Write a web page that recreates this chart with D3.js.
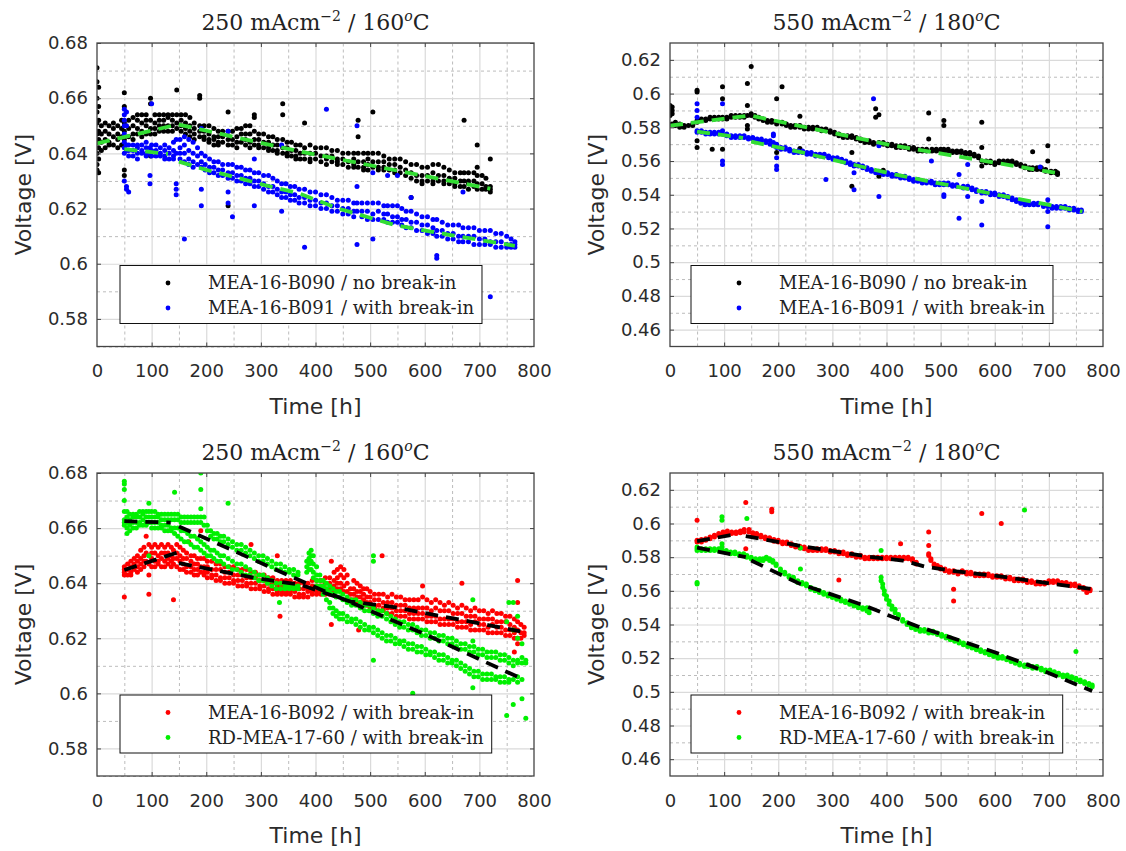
<!DOCTYPE html>
<html>
<head>
<meta charset="utf-8">
<script src="https://cdn.jsdelivr.net/npm/d3@7"></script>
<style>
  body { margin: 0; background: #fff; }
  svg { display: block; }
  .tick-label text { font-family: "DejaVu Sans", sans-serif; font-size: 18px; fill: #2b2b2b; }
  .axis-title { font-family: "DejaVu Sans", sans-serif; font-size: 22px; fill: #2b2b2b; }
  .panel-title { font-family: "DejaVu Serif", serif; font-size: 22px; fill: #222; }
  .legend text { font-family: "DejaVu Serif", serif; font-size: 18px; fill: #222; }
  .grid-major line { stroke: #dadada; stroke-width: 1.2; }
  .grid-minor line { stroke: #b4b4b4; stroke-width: 0.9; stroke-dasharray: 3,3; }
</style>
</head>
<body>
<svg id="chart" width="1126" height="851"></svg>
<script>
// voltage vs time, four panels. each row is [time, voltage, voltage, ...]
// (several dots measured at about the same time)

const xTicks = [0, 100, 200, 300, 400, 500, 600, 700, 800];
const xMinor = [50, 150, 250, 350, 450, 550, 650, 750];
const yTicksLow = [0.58, 0.60, 0.62, 0.64, 0.66, 0.68];
const yMinorLow = [0.57, 0.59, 0.61, 0.63, 0.65, 0.67];
const yTicksHigh = [0.46, 0.48, 0.50, 0.52, 0.54, 0.56, 0.58, 0.60, 0.62];
const yMinorHigh = [0.47, 0.49, 0.51, 0.53, 0.55, 0.57, 0.59, 0.61];

// ---- panel 1: 250 mA/cm2, 160 C ----
const p1B090 = [
  [0, .671, .666, .660, .655, .651, .647, .644, .640, .636, .634],
  [3, .664, .657, .652, .648, .645, .642, .638, .633],
  [8, .650, .647, .644, .641], [15, .651, .648, .645, .642], [22, .650, .647, .644, .643],
  [30, .651, .649, .646, .643], [38, .650, .647, .645, .642], [45, .652, .649, .646, .643],
  [50, .662, .657, .651, .648, .645, .634, .632], [58, .652, .649, .646],
  [66, .653, .650, .647, .645], [74, .654, .652, .649, .647], [82, .654, .651, .648, .646],
  [90, .654, .652, .650, .647], [98, .660, .658, .652, .649, .647, .639],
  [106, .654, .651, .649, .647], [114, .654, .652, .650, .648], [122, .654, .652, .650, .648],
  [130, .654, .653, .650, .648], [138, .654, .652, .650, .648], [146, .663, .654, .651, .649],
  [154, .654, .652, .650, .648], [162, .654, .651, .649, .647], [170, .653, .650, .648, .646],
  [178, .651, .649, .647, .645], [188, .661, .660, .650, .648, .646], [196, .650, .648, .646, .645],
  [205, .650, .647, .645, .644], [214, .649, .646, .645, .643], [222, .648, .646, .644, .643],
  [230, .648, .646, .644], [240, .655, .648, .645, .643, .621], [248, .648, .645, .643],
  [256, .649, .646, .644, .642], [264, .649, .647, .644], [272, .650, .647, .645, .643],
  [280, .650, .647, .644, .642], [288, .654, .653, .648, .645, .643], [296, .647, .645, .643, .642],
  [305, .647, .644, .642], [314, .646, .644, .642, .641], [322, .646, .643, .641],
  [330, .645, .643, .641, .640], [340, .658, .654, .645, .642, .640], [348, .644, .642, .640, .639],
  [356, .644, .641, .639], [364, .643, .641, .639, .638], [372, .643, .640, .638],
  [380, .651, .642, .640, .638], [390, .643, .640, .638, .637], [400, .642, .640, .638],
  [410, .642, .639, .637], [420, .642, .639, .638, .636], [430, .641, .639, .637],
  [440, .641, .638, .637, .636], [450, .640, .638, .636], [460, .640, .637, .635],
  [470, .640, .638, .636, .635], [478, .652, .646, .640, .637, .635], [488, .640, .637, .635, .634],
  [496, .640, .638, .636, .634], [505, .655, .640, .637, .635], [515, .640, .637, .635, .634],
  [525, .639, .637, .635, .634], [535, .638, .636, .634], [545, .638, .636, .634, .633],
  [555, .638, .635, .633], [565, .637, .634, .632], [575, .636, .633, .631, .624],
  [585, .636, .632, .630], [595, .635, .632, .630, .629], [605, .635, .632, .630],
  [615, .636, .633, .630, .629], [625, .636, .632, .630], [635, .635, .632, .630, .629],
  [645, .634, .631, .629], [655, .633, .631, .629, .628], [665, .633, .630, .628],
  [672, .652, .633, .630, .628], [680, .633, .630, .629, .627], [690, .633, .630, .628],
  [696, .643, .635, .632, .629, .627], [705, .632, .629, .627], [712, .631, .628, .627],
  [720, .638, .628, .627, .626]
];
const p1B091 = [
  [50, .656, .654, .652, .650, .647, .644, .642, .640, .630], [54, .655, .650, .643, .641, .628, .627],
  [58, .643, .641, .639, .626], [66, .643, .641, .639], [74, .643, .642, .640, .638],
  [82, .643, .641, .640], [90, .644, .642, .640, .639], [97, .642, .640, .632, .629],
  [100, .658, .643, .641, .639], [108, .643, .641, .639], [116, .642, .640, .639],
  [124, .643, .641, .639, .638], [132, .642, .640, .638], [140, .644, .641, .639, .638],
  [145, .645, .640, .629, .627, .625], [152, .645, .642, .640, .638], [160, .646, .643, .640, .637, .609],
  [168, .645, .641, .638, .636], [176, .644, .640, .637, .635], [184, .642, .639, .636],
  [191, .649, .640, .637, .635, .627, .621], [198, .639, .636, .634], [206, .638, .635, .633],
  [214, .637, .635, .633], [222, .637, .634, .632], [230, .636, .634, .632],
  [240, .648, .636, .633, .631, .626, .622], [248, .636, .633, .631, .617], [256, .635, .632, .630],
  [264, .635, .632, .630], [272, .634, .631, .629], [280, .634, .631, .629],
  [288, .638, .633, .630, .628, .621], [296, .633, .630, .628], [305, .632, .629, .627],
  [314, .632, .628, .626], [322, .631, .628, .626], [330, .630, .627, .625],
  [338, .643, .629, .626, .624, .619], [346, .629, .626, .624], [354, .628, .625, .623],
  [362, .628, .625, .623], [370, .627, .624, .622], [380, .627, .624, .622, .606],
  [390, .626, .623, .621], [400, .626, .623, .621], [410, .625, .622, .620],
  [420, .656, .625, .622, .620], [430, .624, .621, .619], [440, .623, .621, .619],
  [450, .623, .620, .618], [460, .623, .620, .618], [470, .622, .619, .617],
  [476, .650, .628, .622, .619, .607], [485, .622, .619, .617], [495, .622, .619, .616],
  [505, .633, .622, .618, .616, .609], [515, .622, .619, .616], [525, .621, .618, .616],
  [532, .632, .621, .618, .615], [541, .621, .617, .615], [550, .632, .621, .617, .615],
  [558, .620, .616, .614], [566, .619, .616, .613], [575, .624, .619, .615, .613],
  [585, .618, .615, .612], [595, .617, .614, .612], [605, .617, .614, .611],
  [615, .616, .613, .611], [622, .616, .612, .610, .603, .602], [632, .615, .612, .610],
  [642, .614, .611, .609], [652, .614, .611, .609], [662, .614, .610, .608],
  [670, .626, .613, .610, .608], [680, .613, .610, .608], [690, .613, .610, .607],
  [700, .612, .609, .607], [710, .612, .609, .607], [720, .612, .608, .607, .588],
  [730, .611, .608, .606], [740, .611, .608, .606], [750, .610, .607, .606],
  [758, .609, .607, .606], [765, .608, .607, .606]
];
const p1FitB090 = [[0, .6436], [148, .6505], [375, .6405], [720, .6272]];
const p1FitB091a = [[50, .6415], [130, .6398]];
const p1FitB091b = [[150, .637], [200, .634], [260, .631], [307, .6285], [370, .6255], [442, .620], [546, .614], [650, .6103], [765, .6065]];

// ---- panel 2: 550 mA/cm2, 180 C ----
const p2B090 = [
  [0, .593, .592, .591, .590, .589, .587], [4, .592, .590, .588, .582], [10, .583, .581],
  [18, .582, .580], [26, .581, .580], [34, .581], [42, .582, .581],
  [50, .602, .601, .584, .583, .572, .568], [58, .585, .584], [66, .585, .584], [74, .586, .585],
  [78, .567], [82, .586, .585], [90, .586, .585], [97, .604, .597, .586, .585, .567],
  [105, .586, .585], [113, .587, .586], [121, .587, .586], [129, .587, .586], [137, .587, .586],
  [143, .606, .593, .587, .581, .579], [150, .616, .588, .587], [157, .587, .586], [164, .586, .585],
  [172, .585, .584], [180, .584, .583], [188, .584, .583], [197, .597, .583, .582, .565],
  [207, .604, .583, .582], [215, .582, .581], [223, .581, .580], [231, .581, .580],
  [240, .5865, .581, .580, .5675], [248, .580, .579], [256, .580, .579], [264, .580, .579],
  [272, .580, .579], [280, .579, .578], [288, .579, .578], [296, .578, .577], [304, .577, .576],
  [312, .576, .575], [320, .575, .574], [328, .575, .574], [336, .575, .574, .565, .545],
  [344, .574, .573], [352, .573, .572], [360, .572, .571], [368, .572, .571], [376, .571, .570],
  [380, .591, .586], [386, .5875, .571, .570, .551], [394, .571, .570, .5545], [402, .570, .569],
  [410, .570, .569], [418, .569, .568], [426, .569, .568], [434, .569, .568], [442, .568, .567],
  [450, .568, .567], [458, .567, .566], [466, .567, .566], [474, .567, .566], [478, .5885, .573],
  [484, .567, .566], [492, .567, .566], [500, .567, .566], [506, .584, .581, .567, .566],
  [514, .567, .566], [522, .566, .565], [530, .566, .565], [538, .566, .565], [546, .565, .564],
  [554, .565, .564], [562, .564, .563], [570, .563, .562], [576, .583, .568, .560, .557],
  [584, .560, .559], [592, .560, .559], [600, .559, .558], [608, .560, .559], [616, .560, .559],
  [624, .560, .559], [632, .560, .559], [640, .559, .558], [648, .558, .557], [656, .557, .556],
  [664, .556, .555], [670, .5655, .556, .555], [678, .556, .555], [686, .556, .555],
  [694, .555, .554], [698, .569, .560], [704, .554, .553], [712, .554, .553], [716, .553, .552]
];
const p2B091 = [
  [50, .594, .590, .586, .578, .577], [58, .578, .577], [66, .577, .576], [74, .577, .576],
  [82, .577, .576], [90, .577, .576], [97, .594, .578, .576, .560, .558], [105, .576, .575],
  [113, .575, .574], [121, .575, .574], [129, .575, .574], [137, .575, .574], [145, .574, .573],
  [153, .574, .573], [161, .573, .572], [169, .573, .572], [177, .572, .571], [185, .572, .570],
  [191, .576, .575, .571, .569], [197, .570, .568, .562, .557, .555], [205, .568, .567],
  [213, .568, .567], [221, .567, .566], [229, .566, .565], [237, .566, .565], [245, .566, .565],
  [253, .565, .564], [261, .565, .564], [269, .564, .563], [277, .564, .563], [285, .564, .563],
  [288, .549], [293, .563, .562], [301, .562, .561], [309, .562, .561], [317, .561, .560],
  [325, .560, .559], [333, .559, .558], [340, .558, .557, .553, .543], [348, .558, .557],
  [356, .557, .556], [364, .556, .555], [372, .555, .554], [376, .597], [380, .554, .553],
  [386, .569, .554, .553, .539], [394, .553, .552], [402, .553, .552], [410, .552, .551],
  [418, .552, .551], [426, .551, .550], [434, .551, .550], [442, .550, .549], [450, .549, .548],
  [458, .549, .548], [466, .548, .547], [474, .548, .547], [483, .560, .548, .547],
  [490, .547, .546], [498, .547, .546], [506, .547, .546, .540, .539], [514, .547, .546],
  [522, .546, .545], [530, .546, .545], [534, .552, .526], [542, .545, .544],
  [550, .558, .545, .544, .539], [558, .544, .543], [566, .543, .542], [576, .542, .541, .536, .522],
  [584, .542, .541], [592, .541, .540], [600, .541, .540], [608, .540, .539], [616, .540, .539],
  [624, .539, .538], [632, .538, .537], [640, .537, .536], [648, .536, .535], [656, .535, .534],
  [664, .535, .534], [672, .535, .534], [680, .535, .534], [684, .5565], [690, .534, .533],
  [698, .537, .534, .533, .530, .521], [706, .533, .532], [714, .533, .532], [722, .533, .532],
  [730, .533, .532], [738, .532, .531], [746, .532, .531], [754, .531, .530], [760, .531, .530]
];
const p2FitB090 = [[0, .581], [148, .587], [410, .5693], [716, .5528]];
const p2FitB091a = [[50, .5775], [135, .5737]];
const p2FitB091b = [[150, .5715], [244, .5651], [411, .5523], [762, .530]];

// ---- panel 3: 250 mA/cm2, 160 C ----
const p3B092 = [
  [50, .646, .645, .644, .643, .635], [56, .647, .645, .643], [62, .648, .646, .644, .643],
  [68, .649, .647, .645], [74, .650, .648, .646, .644], [80, .652, .649, .647, .645],
  [86, .653, .650, .648, .646], [90, .657, .651, .648], [95, .654, .650, .647, .643, .636],
  [100, .653, .651, .649, .646], [106, .654, .651, .648, .646], [112, .653, .650, .648, .647],
  [118, .654, .651, .649, .646], [124, .653, .651, .648, .646], [130, .654, .651, .649, .647],
  [136, .653, .650, .648, .646], [140, .652, .649, .647, .634], [146, .654, .651, .649, .646],
  [152, .653, .650, .648, .645], [158, .652, .649, .647, .645], [164, .651, .649, .646, .644],
  [168, .655], [172, .650, .648, .646, .644], [178, .650, .647, .645, .643],
  [184, .649, .647, .645, .643], [190, .659, .649, .646, .644], [196, .649, .646, .644, .643],
  [202, .648, .646, .644, .642], [210, .648, .645, .643, .642], [218, .647, .645, .643, .641],
  [226, .647, .645, .642, .641], [234, .646, .644, .642, .640], [242, .646, .644, .642, .640],
  [250, .646, .643, .641, .640], [258, .645, .643, .641, .639], [266, .645, .643, .641, .639],
  [274, .645, .642, .640, .639], [282, .654, .644, .642, .640, .638], [290, .644, .642, .640, .638],
  [298, .643, .641, .639, .638], [306, .643, .641, .639, .637], [314, .642, .640, .638, .637],
  [322, .642, .640, .638, .636], [330, .650, .641, .639, .637, .636], [335, .628],
  [338, .641, .639, .637, .636], [346, .641, .639, .637, .636], [354, .641, .639, .637, .636],
  [362, .640, .638, .637, .635], [370, .640, .638, .636, .635], [378, .640, .638, .636, .635],
  [386, .640, .638, .637, .635], [394, .641, .639, .637, .636], [402, .641, .639, .637, .636],
  [410, .641, .639, .637, .636], [418, .642, .640, .638, .636], [426, .642, .640, .638, .636],
  [429, .648, .625], [434, .644, .641, .639, .637], [440, .645, .642, .640, .638],
  [446, .646, .643, .640, .638], [452, .645, .642, .639, .637], [458, .643, .640, .637],
  [464, .638, .636, .634], [470, .641, .638, .636, .634], [476, .640, .637, .635, .633],
  [479, .623], [482, .639, .637, .635, .633], [488, .638, .636, .634, .632],
  [494, .638, .635, .633, .632], [500, .637, .635, .633, .631], [508, .636, .634, .632, .631],
  [516, .636, .634, .632, .630], [522, .650], [524, .636, .633, .631, .630],
  [532, .635, .633, .631, .629], [540, .636, .633, .631, .629], [548, .635, .632, .630, .628],
  [556, .635, .632, .630, .628], [564, .634, .632, .630, .628], [572, .634, .631, .629, .627],
  [580, .634, .631, .629, .627], [588, .634, .631, .629, .627], [596, .639, .635, .631, .629, .627],
  [604, .634, .631, .628, .626], [612, .633, .630, .628, .626], [620, .634, .631, .628, .626],
  [628, .633, .630, .627, .625], [636, .632, .630, .627, .625], [644, .633, .630, .627, .625],
  [652, .632, .629, .627, .625], [660, .631, .629, .626, .624], [668, .640, .632, .629, .626, .624],
  [676, .631, .628, .626, .624], [684, .630, .628, .625, .623], [692, .631, .628, .626, .623],
  [700, .630, .627, .625, .623], [708, .630, .627, .625, .623], [716, .629, .627, .624, .622],
  [724, .630, .627, .625, .622], [732, .629, .626, .624, .622], [740, .629, .626, .624, .622],
  [748, .628, .626, .623, .621], [756, .628, .625, .623, .621], [764, .627, .624, .622, .620, .615],
  [770, .641, .633, .626, .623, .620, .618], [776, .625, .622, .620], [782, .624, .622, .621]
];
const p3RD1760 = [
  [50, .677, .676, .674, .670, .666, .663, .662, .661], [55, .666, .664, .662, .660, .658],
  [60, .665, .663, .661, .659], [66, .665, .664, .662, .660], [72, .665, .664, .662, .660],
  [78, .666, .664, .662, .661], [84, .666, .665, .663, .661], [90, .666, .664, .662, .661],
  [95, .669, .666, .664, .662, .650], [100, .666, .664, .662, .660], [106, .666, .664, .662, .660],
  [112, .665, .664, .662, .660], [118, .665, .663, .661, .660], [124, .665, .663, .661, .659],
  [130, .665, .663, .661, .659], [136, .665, .663, .660, .659], [142, .673, .665, .663, .660, .658],
  [148, .665, .663, .660, .657], [154, .664, .662, .659, .656], [160, .664, .662, .659, .655],
  [166, .664, .662, .658, .655], [172, .664, .662, .657, .654], [178, .664, .662, .657, .653],
  [184, .664, .662, .656, .653], [190, .680, .674, .667, .664, .662, .655, .652],
  [196, .664, .661, .654, .651], [202, .661, .659, .653, .650], [208, .659, .657, .652, .650],
  [214, .658, .656, .652, .649], [220, .658, .656, .651, .648], [226, .657, .655, .650, .648],
  [232, .657, .655, .650, .647], [240, .669, .656, .654, .649, .646], [248, .655, .653, .648, .645],
  [256, .654, .652, .647, .645], [264, .654, .652, .647, .644], [272, .653, .651, .646, .643],
  [280, .652, .650, .645, .643], [288, .651, .649, .644, .642], [296, .650, .648, .643, .641],
  [304, .650, .648, .643, .641], [312, .649, .647, .642, .640], [320, .648, .646, .641, .639],
  [328, .647, .645, .640, .638], [334, .633], [336, .647, .645, .640, .638],
  [344, .646, .644, .639, .638], [352, .645, .644, .639, .638], [360, .645, .643, .639, .638],
  [368, .644, .643, .639, .638], [384, .648, .646, .644], [388, .651, .649, .647, .645],
  [392, .652, .650, .648, .645], [396, .650, .647, .644, .642], [402, .646, .643, .641, .639],
  [408, .643, .641, .639, .638], [414, .641, .639, .638, .636], [420, .640, .638, .637, .634],
  [426, .639, .637, .633, .631], [432, .638, .636, .631, .629], [438, .637, .635, .630, .628],
  [444, .637, .635, .629, .627], [450, .636, .634, .629, .627], [458, .635, .633, .628, .626],
  [466, .634, .632, .627, .626], [474, .634, .632, .627, .625], [482, .633, .631, .626, .624],
  [490, .632, .630, .625, .623], [498, .632, .630, .624, .623],
  [506, .650, .648, .631, .629, .624, .622, .612], [514, .630, .628, .623, .621],
  [522, .630, .628, .622, .620], [530, .629, .627, .621, .619], [538, .628, .626, .621, .619],
  [546, .627, .625, .620, .618], [554, .626, .624, .619, .618], [562, .626, .624, .619, .617],
  [570, .625, .623, .618, .616], [578, .625, .623, .618, .616, .600], [586, .624, .622, .617, .615],
  [594, .623, .621, .617, .615], [602, .623, .621, .616, .614], [610, .622, .620, .615, .614],
  [618, .622, .620, .615, .613], [626, .621, .619, .614, .612], [634, .621, .619, .614, .612],
  [642, .620, .618, .613, .611], [650, .620, .618, .612, .611], [658, .619, .617, .612, .610],
  [666, .618, .616, .611, .609], [674, .618, .616, .610, .608], [682, .617, .615, .609, .607],
  [688, .634, .619, .602], [690, .617, .615, .608, .606], [698, .616, .614, .608, .606],
  [706, .616, .614, .607, .605], [714, .615, .613, .607, .605], [722, .615, .613, .607, .605],
  [730, .615, .613, .606, .605], [738, .614, .612, .606, .604], [746, .614, .612, .606, .604],
  [750, .626, .592], [754, .633, .613, .611, .605, .604], [762, .633, .623, .612, .610, .605, .596],
  [770, .628, .620, .612, .611, .606, .604], [778, .618, .613, .611, .605, .598], [785, .612, .611, .591]
];
const p3FitB092a = [[50, .6448], [148, .6512]];
const p3FitB092b = [[150, .6473], [292, .6418], [373, .6394], [464, .6333], [538, .6315], [716, .6248], [775, .6225]];
const p3FitRDa = [[50, .6625], [135, .6620]];
const p3FitRDb = [[150, .6606], [400, .6385], [600, .6215], [770, .606]];

// ---- panel 4: 550 mA/cm2, 180 C ----
const p4B092 = [
  [50, .602, .590, .589], [58, .5905, .589], [66, .591, .590], [74, .592, .591], [82, .593, .592],
  [90, .594, .593], [98, .595, .5935], [106, .5955, .594], [114, .595, .594], [122, .595, .594],
  [130, .5955, .5945], [137, .5965, .595], [140, .6125, .585], [146, .5965, .595], [153, .5945, .593],
  [160, .594, .593], [168, .593, .592], [176, .592, .591], [184, .5915, .5905], [188, .6085, .607],
  [192, .5905, .5895], [200, .590, .589], [208, .589, .588], [216, .589, .588], [224, .588, .587],
  [232, .587, .586], [240, .5865, .5855], [248, .586, .585], [256, .585, .584], [264, .585, .584],
  [272, .585, .584], [280, .585, .584], [288, .585, .584], [296, .584, .583], [304, .584, .583],
  [312, .583, .582, .5665], [320, .583, .582], [328, .582, .581], [336, .582, .581], [344, .581, .580],
  [352, .581, .580], [360, .580, .579], [368, .580, .579], [376, .580, .579], [384, .580, .579],
  [392, .580, .579], [400, .580, .579], [408, .580, .579], [416, .580, .579], [424, .580, .579],
  [426, .588], [432, .580, .579], [440, .580, .579], [448, .579, .578], [455, .577, .576],
  [478, .595, .587, .582, .581], [482, .579, .578], [488, .576, .575], [494, .575, .574],
  [500, .574, .573], [508, .573, .572], [516, .572, .571], [524, .572, .571, .561, .554],
  [532, .571, .570], [540, .572, .571], [548, .571, .570], [556, .571, .570], [564, .570, .569],
  [572, .570, .569], [576, .606], [580, .570, .569], [588, .570, .569], [596, .569, .568],
  [604, .569, .568], [612, .600, .569, .568], [620, .568, .567], [628, .568, .567], [636, .567, .566],
  [644, .567, .566], [652, .567, .566], [660, .566, .565], [668, .566, .565], [676, .565, .564],
  [684, .565, .564], [692, .565, .564], [700, .566, .565], [708, .566, .565], [716, .566, .565],
  [724, .565, .564], [732, .565, .564], [740, .564, .563], [748, .564, .563], [756, .563, .562],
  [764, .562, .561], [770, .561, .559], [776, .561, .560]
];
const p4RD1760 = [
  [50, .586, .585, .584, .565, .564], [58, .585, .584], [66, .585, .584], [74, .585, .584],
  [82, .585, .584], [90, .585, .584], [96, .604, .602, .588, .586, .584], [104, .584, .583],
  [112, .583, .582], [120, .583, .582], [128, .582, .581], [136, .582, .581], [142, .603, .581, .580],
  [150, .580, .579], [158, .579, .578], [166, .579, .578], [172, .579, .578], [178, .580, .579],
  [184, .579, .578], [190, .578, .577], [196, .576, .575], [204, .573, .572], [212, .571, .570],
  [220, .569, .568], [228, .568, .567], [236, .566, .565], [241, .5855, .573], [244, .565, .564],
  [252, .564, .563], [260, .562, .561], [268, .561, .560], [276, .560, .559], [284, .559, .558],
  [292, .558, .557], [300, .557, .556], [308, .556, .555], [316, .555, .554], [324, .554, .553],
  [332, .553, .552], [340, .552, .551], [348, .551, .550], [356, .550, .549], [364, .550, .548],
  [368, .549, .547], [390, .584, .568, .566], [393, .564, .562], [396, .560, .558], [400, .557, .555],
  [405, .554, .552], [410, .551, .549], [416, .549, .547], [422, .546, .545], [430, .543, .542],
  [438, .541, .540], [446, .539, .538], [454, .538, .537], [462, .537, .536], [470, .537, .536],
  [478, .536, .535], [486, .536, .535], [494, .535, .534], [502, .534, .533], [510, .533, .532],
  [518, .532, .531], [526, .531, .530], [534, .530, .529], [542, .529, .528], [550, .528, .527],
  [558, .527, .526], [566, .526, .525], [574, .525, .524], [582, .524, .523], [590, .523, .522],
  [598, .522, .521], [606, .521, .520], [614, .521, .520], [622, .520, .519], [630, .519, .518],
  [638, .518, .517], [646, .517, .516], [655, .608, .516, .515], [662, .516, .515], [670, .515, .514],
  [678, .515, .514], [686, .514, .513], [694, .513, .512], [702, .513, .512], [710, .512, .511],
  [718, .511, .510], [726, .510, .509], [734, .510, .509], [742, .509, .508], [750, .524, .508, .507],
  [758, .507, .506], [766, .506, .505], [774, .505, .504], [780, .504, .503]
];
const p4FitB092a = [[50, .5895], [120, .5935]];
const p4FitB092b = [[140, .5925], [250, .5862], [362, .5805], [430, .578], [470, .5745], [530, .5715], [600, .569], [700, .5645], [780, .561]];
const p4FitRDa = [[50, .5857], [140, .580]];
const p4FitRDb = [[150, .578], [241, .564], [362, .551], [407, .545], [457, .539], [600, .5235], [690, .5125], [780, .5005]];

const legendNoBreak = "MEA-16-B090 / no break-in";
const legendB091 = "MEA-16-B091 / with break-in";
const legendB092 = "MEA-16-B092 / with break-in";
const legendRD = "RD-MEA-17-60 / with break-in";

const BLACK = "#000000", BLUE = "#0000ff", RED = "#ff0000", LIME = "#00f000";

const panels = [
  { left: 97, right: 534, top: 43, bottom: 346.5, yDomain: [0.57, 0.68], yTicks: yTicksLow, yMinor: yMinorLow,
    current: "250", temp: "160",
    series: [{ rows: p1B090, color: BLACK, label: legendNoBreak }, { rows: p1B091, color: BLUE, label: legendB091 }],
    fits: [p1FitB090, p1FitB091a, p1FitB091b], fitColor: "#33dd33" },
  { left: 670, right: 1103, top: 43, bottom: 346.5, yDomain: [0.45, 0.63], yTicks: yTicksHigh, yMinor: yMinorHigh,
    current: "550", temp: "180",
    series: [{ rows: p2B090, color: BLACK, label: legendNoBreak }, { rows: p2B091, color: BLUE, label: legendB091 }],
    fits: [p2FitB090, p2FitB091a, p2FitB091b], fitColor: "#33dd33" },
  { left: 97, right: 534, top: 473, bottom: 776, yDomain: [0.57, 0.68], yTicks: yTicksLow, yMinor: yMinorLow,
    current: "250", temp: "160",
    series: [{ rows: p3B092, color: RED, label: legendB092 }, { rows: p3RD1760, color: LIME, label: legendRD }],
    fits: [p3FitB092a, p3FitB092b, p3FitRDa, p3FitRDb], fitColor: "#000000" },
  { left: 670, right: 1103, top: 473, bottom: 776, yDomain: [0.45, 0.63], yTicks: yTicksHigh, yMinor: yMinorHigh,
    current: "550", temp: "180",
    series: [{ rows: p4B092, color: RED, label: legendB092 }, { rows: p4RD1760, color: LIME, label: legendRD }],
    fits: [p4FitB092a, p4FitB092b, p4FitRDa, p4FitRDb], fitColor: "#000000" }
];

const svg = d3.select("#chart");
svg.append("rect").attr("width", 1126).attr("height", 851).attr("fill", "#fff");

panels.forEach((p, i) => {
  const w = p.right - p.left, h = p.bottom - p.top;
  const x = d3.scaleLinear().domain([0, 800]).range([0, w]);
  const y = d3.scaleLinear().domain(p.yDomain).range([h, 0]);
  const g = svg.append("g").attr("transform", `translate(${p.left},${p.top})`);
  const clipId = "clip" + i;
  g.append("clipPath").attr("id", clipId).append("rect").attr("width", w).attr("height", h);

  // grid: dashed minor lines, then solid major lines
  g.append("g").attr("class", "grid-minor").attr("transform", `translate(0,${h})`)
    .call(d3.axisBottom(x).tickValues(xMinor).tickSize(-h).tickFormat(""))
    .call(a => a.select(".domain").remove());
  g.append("g").attr("class", "grid-minor")
    .call(d3.axisLeft(y).tickValues(p.yMinor).tickSize(-w).tickFormat(""))
    .call(a => a.select(".domain").remove());
  g.append("g").attr("class", "grid-major").attr("transform", `translate(0,${h})`)
    .call(d3.axisBottom(x).tickValues(xTicks.slice(1, -1)).tickSize(-h).tickFormat(""))
    .call(a => a.select(".domain").remove());
  g.append("g").attr("class", "grid-major")
    .call(d3.axisLeft(y).tickValues(p.yTicks).tickSize(-w).tickFormat(""))
    .call(a => a.select(".domain").remove());

  // data dots
  const plot = g.append("g").attr("clip-path", `url(#${clipId})`);
  p.series.forEach(s => {
    const pts = s.rows.flatMap(r => r.slice(1).map(v => [r[0], v]));
    plot.append("g").selectAll("circle").data(pts).join("circle")
      .attr("cx", d => x(d[0])).attr("cy", d => y(d[1]))
      .attr("r", 2.5).attr("fill", s.color);
  });

  // fitted trend lines
  const line = d3.line().x(d => x(d[0])).y(d => y(d[1]));
  p.fits.forEach(f => {
    plot.append("path").datum(f).attr("d", line)
      .attr("fill", "none").attr("stroke", p.fitColor)
      .attr("stroke-width", 3.8).attr("stroke-dasharray", "13,8");
  });

  // frame and inner ticks
  const tickCol = "#444";
  g.append("g").attr("transform", `translate(0,${h})`)
    .call(d3.axisBottom(x).tickValues(xTicks.slice(1, -1)).tickSize(-4).tickFormat(""))
    .call(a => { a.select(".domain").remove(); a.selectAll("line").attr("stroke", tickCol); });
  g.append("g")
    .call(d3.axisTop(x).tickValues(xTicks.slice(1, -1)).tickSize(-4).tickFormat(""))
    .call(a => { a.select(".domain").remove(); a.selectAll("line").attr("stroke", tickCol); });
  g.append("g")
    .call(d3.axisLeft(y).tickValues(p.yTicks).tickSize(-4).tickFormat(""))
    .call(a => { a.select(".domain").remove(); a.selectAll("line").attr("stroke", tickCol); });
  g.append("g").attr("transform", `translate(${w},0)`)
    .call(d3.axisRight(y).tickValues(p.yTicks).tickSize(-4).tickFormat(""))
    .call(a => { a.select(".domain").remove(); a.selectAll("line").attr("stroke", tickCol); });
  g.append("rect").attr("width", w).attr("height", h)
    .attr("fill", "none").attr("stroke", "#444").attr("stroke-width", 1.3);

  // tick labels
  g.append("g").attr("class", "tick-label").attr("transform", `translate(0,${h})`)
    .call(d3.axisBottom(x).tickValues(xTicks).tickSize(0).tickPadding(18).tickFormat(d3.format("d")))
    .call(a => a.select(".domain").remove());
  g.append("g").attr("class", "tick-label")
    .call(d3.axisLeft(y).tickValues(p.yTicks).tickSize(0).tickPadding(9).tickFormat(d => String(+d.toFixed(2))))
    .call(a => a.select(".domain").remove());

  // axis titles
  g.append("text").attr("class", "axis-title").attr("x", w / 2).attr("y", h + 67)
    .attr("text-anchor", "middle").text("Time [h]");
  g.append("text").attr("class", "axis-title")
    .attr("transform", `translate(-74,${h / 2}) rotate(-90)`)
    .attr("text-anchor", "middle").attr("dy", "0.35em").text("Voltage [V]");

  // panel title with superscripts
  const t = g.append("text").attr("class", "panel-title")
    .attr("x", w / 2).attr("y", -13).attr("text-anchor", "middle");
  t.append("tspan").text(p.current + " mAcm");
  t.append("tspan").attr("dy", -9).attr("font-size", 14).text("\u22122");
  t.append("tspan").attr("dy", 9).text(" / " + p.temp);
  t.append("tspan").attr("dy", -9).attr("font-size", 14).attr("font-style", "italic").text("o");
  t.append("tspan").attr("dy", 9).text("C");

  // legend
  const lg = g.append("g").attr("class", "legend");
  const boxX = p.left === 97 ? 23 : 21, boxY = h - 81, boxH = 58;
  const markX = boxX + 48, textX = boxX + 88;
  const box = lg.append("rect").attr("x", boxX).attr("y", boxY).attr("height", boxH)
    .attr("fill", "#fff").attr("stroke", "#111").attr("stroke-width", 1);
  let maxW = 0;
  p.series.forEach((s, k) => {
    const cy = boxY + 17.5 + k * 25;
    lg.append("circle").attr("cx", markX).attr("cy", cy).attr("r", 2.4).attr("fill", s.color);
    const tx = lg.append("text").attr("x", textX).attr("y", cy + 6).text(s.label);
    maxW = Math.max(maxW, tx.node().getComputedTextLength());
  });
  box.attr("width", textX - boxX + maxW + 8);
});
</script>
</body>
</html>
